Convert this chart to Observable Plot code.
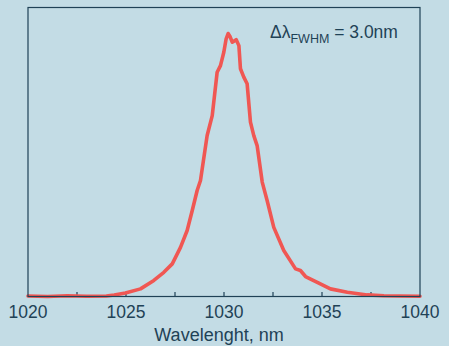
<!DOCTYPE html>
<html>
<head>
<meta charset="utf-8">
<script src="https://cdn.jsdelivr.net/npm/d3@7"></script>
<script src="https://cdn.jsdelivr.net/npm/@observablehq/plot@0.6"></script>
<style>
  html, body { margin: 0; padding: 0; background: #c3dce5; }
  #chart svg { display: block; }
</style>
</head>
<body>
<div id="chart"></div>
<script>
const wavelength = [1020, 1021, 1022, 1023, 1024.0, 1024.4, 1024.97, 1025.74, 1026.42, 1026.93, 1027.36, 1027.78, 1028.12, 1028.38, 1028.63, 1028.8, 1029.14, 1029.4, 1029.65, 1029.82, 1029.99, 1030.11, 1030.21, 1030.3, 1030.42, 1030.53, 1030.62, 1030.76, 1030.84, 1031.01, 1031.18, 1031.35, 1031.52, 1031.69, 1031.95, 1032.2, 1032.54, 1033.05, 1033.65, 1033.9, 1034.16, 1034.76, 1035.43, 1036.29, 1037.31, 1038.16, 1039, 1040];
const intensity  = [0.002, 0.0, 0.003, 0.001, 0.002, 0.006, 0.013, 0.029, 0.061, 0.092, 0.124, 0.187, 0.251, 0.327, 0.403, 0.441, 0.612, 0.688, 0.853, 0.878, 0.929, 0.98, 1.0, 0.99, 0.967, 0.972, 0.977, 0.954, 0.866, 0.834, 0.809, 0.663, 0.612, 0.574, 0.435, 0.365, 0.263, 0.175, 0.105, 0.099, 0.076, 0.054, 0.029, 0.016, 0.006, 0.003, 0.002, 0.001];
const xTicks = [1020, 1025, 1030, 1035, 1040];
const minorTicks = [1022.5, 1025, 1027.5, 1030, 1032.5, 1035, 1037.5];
const annotation = {main: "Δλ", sub: "FWHM", rest: " = 3.0nm", x: 1038.9};

const data = wavelength.map((w, i) => ({w, v: intensity[i]}));
const ink = "#1f4256";
const plotH = 346 - 7 - 50;

const plot = Plot.plot({
  width: 449,
  height: 346,
  marginLeft: 27.5,
  marginRight: 29.5,
  marginTop: 7,
  marginBottom: 50,
  style: {background: "#c3dce5", fontFamily: "Liberation Sans, Arial, sans-serif", color: ink},
  x: {domain: [1020, 1040]},
  y: {domain: [0, 1.099], axis: null},
  marks: [
    Plot.tickX(minorTicks, {x: d => d, stroke: ink, strokeWidth: 1.2, insetTop: plotH - 4}),
    Plot.axisX({ticks: xTicks, tickSize: 0, tickPadding: 9, tickFormat: d => String(d), fontSize: 17.5, fill: ink, label: null}),
    Plot.line(data, {x: "w", y: "v", stroke: "#f05753", strokeWidth: 3.6, curve: "linear", strokeLinejoin: "round"}),
    Plot.frame({stroke: ink, strokeWidth: 1.2}),
    Plot.text(["Wavelenght, nm"], {frameAnchor: "bottom", dy: 44, dx: -5, fontSize: 18, fill: ink, text: d => d})
  ]
});

document.getElementById("chart").appendChild(plot);

const xs = plot.scale("x");
const svg = d3.select(plot);
const t = svg.append("text")
  .attr("x", xs.apply(annotation.x))
  .attr("y", 37.7)
  .attr("text-anchor", "end")
  .attr("fill", ink)
  .attr("font-size", 17.5)
  .attr("font-family", "Liberation Sans, Arial, sans-serif");
t.append("tspan").text(annotation.main);
t.append("tspan").attr("font-size", 12.5).attr("dy", 5).text(annotation.sub);
t.append("tspan").attr("dy", -5).text(annotation.rest);
</script>
</body>
</html>
